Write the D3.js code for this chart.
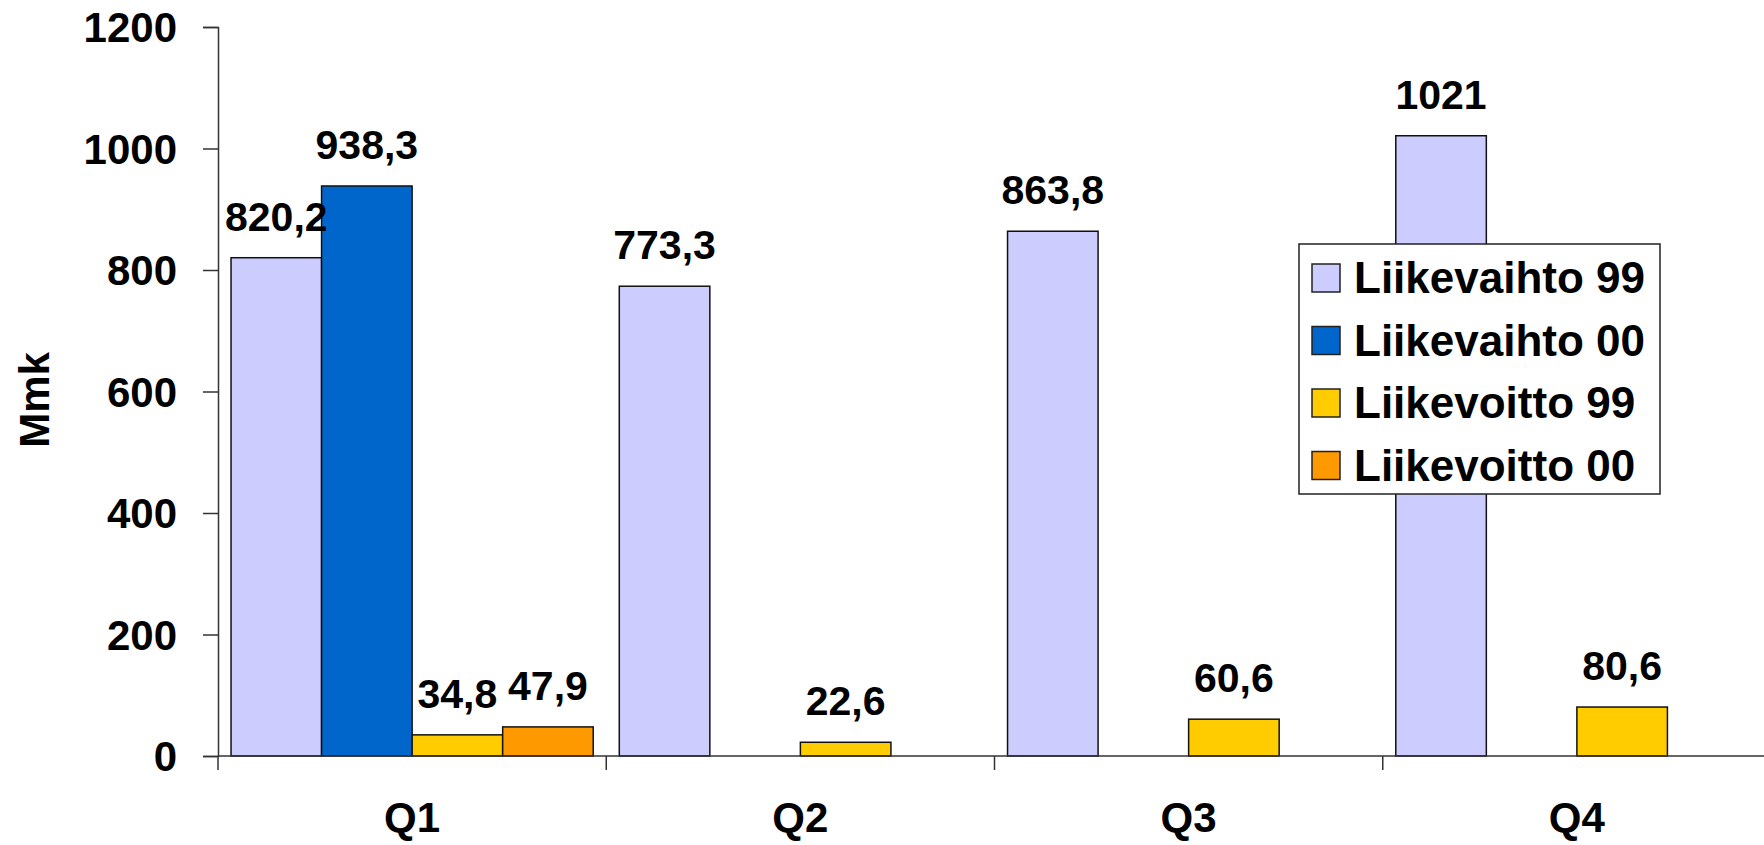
<!DOCTYPE html>
<html>
<head>
<meta charset="utf-8">
<script src="https://cdn.jsdelivr.net/npm/d3@7"></script>
<style>
  body { margin: 0; background: #fff; }
  svg { display: block; font-family: "Liberation Sans", Arial, sans-serif; font-weight: bold; }
</style>
</head>
<body>
<svg id="chart"></svg>
<script>
// Data
const quarters = ["Q1", "Q2", "Q3", "Q4"];
const seriesNames = ["Liikevaihto 99", "Liikevaihto 00", "Liikevoitto 99", "Liikevoitto 00"];
const seriesColors = ["#ccccff", "#0066cc", "#ffcc00", "#ff9900"];
const liikevaihto99 = [820.2, 773.3, 863.8, 1021];
const liikevaihto00 = [938.3, null, null, null];
const liikevoitto99 = [34.8, 22.6, 60.6, 80.6];
const liikevoitto00 = [47.9, null, null, null];
const yTicks = [0, 200, 400, 600, 800, 1000, 1200];

const seriesValues = [liikevaihto99, liikevaihto00, liikevoitto99, liikevoitto00];

const width = 1764, height = 845;
const svg = d3.select("#chart").attr("width", width).attr("height", height);

const plotLeft = 218, plotRight = 1771, plotTop = 27, plotBottom = 756;

// Scales
const x0 = d3.scaleBand().domain(quarters).range([plotLeft, plotRight]).padding(0);
const x1 = d3.scaleBand().domain(seriesNames).range([0, x0.bandwidth()])
    .paddingInner(0).paddingOuter(0.144);
const y = d3.scaleLinear().domain([0, 1200]).range([plotBottom, plotTop]);

// Bars, built from the arrays
const rows = [];
quarters.forEach((q, i) => {
    seriesNames.forEach((s, j) => {
        const v = seriesValues[j][i];
        if (v != null) rows.push({ q, s, v, color: seriesColors[j] });
    });
});

const barGroup = svg.append("g");
barGroup.selectAll("rect")
    .data(rows)
    .enter().append("rect")
    .attr("x", d => x0(d.q) + x1(d.s))
    .attr("y", d => y(d.v))
    .attr("width", x1.bandwidth())
    .attr("height", d => y(0) - y(d.v))
    .attr("fill", d => d.color)
    .attr("stroke", "#111")
    .attr("stroke-width", 1.5);

// Value labels
barGroup.selectAll("text")
    .data(rows)
    .enter().append("text")
    .attr("x", d => x0(d.q) + x1(d.s) + x1.bandwidth() / 2)
    .attr("y", d => y(d.v) - 27)
    .attr("text-anchor", "middle")
    .attr("font-size", 41)
    .attr("fill", "#000")
    .text(d => String(d.v).replace(".", ","));

// Y axis
const yAxis = svg.append("g")
    .attr("transform", `translate(${plotLeft},0)`)
    .call(d3.axisLeft(y).tickValues(yTicks).tickSize(15).tickPadding(26).tickFormat(d3.format("d")));
yAxis.select(".domain").attr("stroke", "#333").attr("stroke-width", 1.5);
yAxis.selectAll(".tick line").attr("stroke", "#333").attr("stroke-width", 1.5);
yAxis.selectAll(".tick text")
    .attr("font-size", 42)
    .attr("font-family", "Liberation Sans, Arial, sans-serif")
    .attr("font-weight", "bold")
    .attr("fill", "#000")
    .attr("dy", "0.35em");

// X axis line and boundary ticks
svg.append("line")
    .attr("x1", plotLeft).attr("x2", width)
    .attr("y1", plotBottom).attr("y2", plotBottom)
    .attr("stroke", "#333").attr("stroke-width", 1.5);
svg.append("g").selectAll("line")
    .data(quarters)
    .enter().append("line")
    .attr("x1", d => x0(d)).attr("x2", d => x0(d))
    .attr("y1", plotBottom).attr("y2", plotBottom + 14)
    .attr("stroke", "#333").attr("stroke-width", 1.5);

// Category labels
svg.append("g").selectAll("text")
    .data(quarters)
    .enter().append("text")
    .attr("x", d => x0(d) + x0.bandwidth() / 2)
    .attr("y", 832)
    .attr("text-anchor", "middle")
    .attr("font-size", 42)
    .text(d => d);

// Y axis title
svg.append("text")
    .attr("transform", "translate(49,400) rotate(-90)")
    .attr("text-anchor", "middle")
    .attr("font-size", 42)
    .text("Mmk");

// Legend
const legend = svg.append("g").attr("transform", "translate(1299,244)");
legend.append("rect")
    .attr("width", 361).attr("height", 250)
    .attr("fill", "#fff").attr("stroke", "#222").attr("stroke-width", 1.5);
const item = legend.selectAll(".item")
    .data(seriesNames)
    .enter().append("g")
    .attr("class", "item")
    .attr("transform", (d, i) => `translate(13,${20 + i * 62.5})`);
item.append("rect")
    .attr("width", 28).attr("height", 28)
    .attr("fill", (d, i) => seriesColors[i])
    .attr("stroke", "#222").attr("stroke-width", 1.5);
item.append("text")
    .attr("x", 42).attr("y", 29)
    .attr("font-size", 44)
    .text(d => d);
</script>
</body>
</html>
